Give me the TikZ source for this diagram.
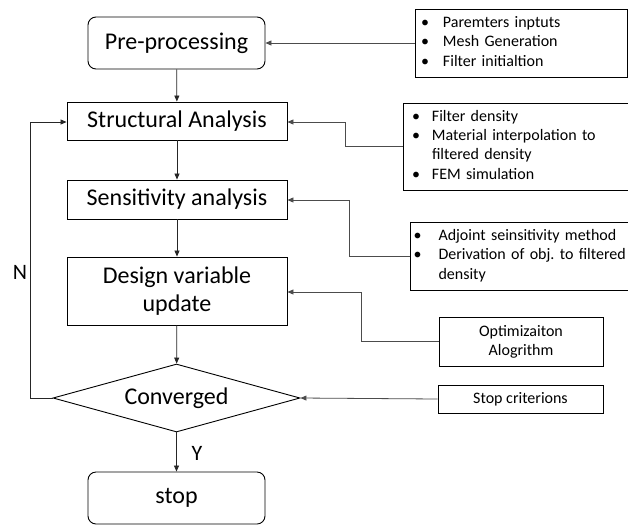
\documentclass[tikz,border=0pt]{standalone}
\usepackage{fontspec}
\setmainfont{Carlito}
\usetikzlibrary{arrows.meta,shapes.geometric}
\newcommand\mybul[1]{\makebox[#1][l]{\makebox[0pt]{\textbullet}}}
\begin{document}
\begin{tikzpicture}[x=1pt,y=-1pt,
  every node/.style={font=\fontsize{24}{28}\selectfont},
  proc/.style={draw, line width=0.9pt, minimum width=220pt, inner sep=0pt, align=center},
  term/.style={draw, line width=0.9pt, rounded corners=8pt, minimum width=177pt, minimum height=52pt, inner sep=0pt},
  note/.style={draw, line width=0.9pt, font=\fontsize{16}{19.2}\selectfont, inner ysep=0pt, align=left},
  cnote/.style={draw, line width=0.9pt, font=\fontsize{16}{19.2}\selectfont, inner sep=0pt, align=center},
  lab/.style={font=\fontsize{22}{26}\selectfont, inner sep=0pt},
  conn/.style={line width=0.8pt, black!85, -{Triangle[length=6pt,width=5pt]}},
  side/.style={line width=0.8pt, black!70, -{Triangle[length=6pt,width=5pt]}}
]
\useasboundingbox (0,0) rectangle (628,525);
\fill[white] (0,0) rectangle (628,525);

% main flow
\node[term] (pre) at (176.5,43) {Pre-processing};
\node[proc, minimum height=38pt] (sa) at (177,121) {Structural Analysis};
\node[proc, minimum height=39pt] (sens) at (177,199.5) {Sensitivity analysis};
\node[proc, minimum height=68pt] (dvu) at (177,291) {Design variable\\update};
\node[draw, line width=0.9pt, diamond, aspect=3.6, minimum width=247pt, minimum height=68pt, inner sep=0pt] (conv) at (176.5,398) {Converged};
\node[term] (stop) at (176.5,498) {stop};

% side notes
\node[note, minimum width=212pt, minimum height=68pt, inner xsep=10pt, text width=192pt] (b1) at (521,43)
  {\begin{tabular}{@{}l@{}l@{}}
   \mybul{18pt} & Paremters inptuts\\
   \mybul{18pt} & Mesh Generation\\
   \mybul{18pt} & Filter initialtion
   \end{tabular}};
\node[note, minimum width=227pt, minimum height=87pt, inner xsep=13pt, text width=201pt] (b2) at (516.5,146.5)
  {\begin{tabular}{@{}l@{}l@{}}
   \mybul{16pt} & Filter density\\
   \mybul{16pt} & Material interpolation to\\
                & filtered density\\
   \mybul{16pt} & FEM simulation
   \end{tabular}};
\node[note, minimum width=220pt, minimum height=68pt, inner xsep=7.5pt, text width=205pt] (b3) at (520,256)
  {\begin{tabular}{@{}l@{}l@{}}
   \mybul{21pt} & Adjoint seinsitivity method\\
   \mybul{21pt} & Derivation of obj.\ to filtered\\
                & density
   \end{tabular}};
\node[cnote, minimum width=164pt, minimum height=49pt] (b4) at (521,341.5) {Optimizaiton\\Alogrithm};
\node[cnote, minimum width=165pt, minimum height=28pt] (b5) at (520.5,399) {Stop criterions};

% main connectors
\draw[conn] (pre) -- (sa);
\draw[conn] (sa) -- (sens);
\draw[conn] (sens) -- (dvu);
\draw[conn] (dvu) -- (conv);
\draw[conn] (conv) -- (stop);
\draw[conn] (conv.west) -- (30,398) -- (30,122) -- (sa.west |- 0,122);

% side connectors
\draw[side] (b1.west) -- (pre.east |- b1.west);
\draw[side] (b2.west) -- (345,146.5) -- (345,122) -- (sa.east |- 0,122);
\draw[side] (b3.west) -- (349,256) -- (349,200) -- (sens.east |- 0,200);
\draw[side] (b4.west) -- (361,341.5) -- (361,292) -- (dvu.east |- 0,292);
\draw[side] (b5.west) -- (conv.east);

% labels
\node[lab] (nlab) at (20,272) {N};
\node[lab] (ylab) at (197,453) {Y};
\end{tikzpicture}
\end{document}
